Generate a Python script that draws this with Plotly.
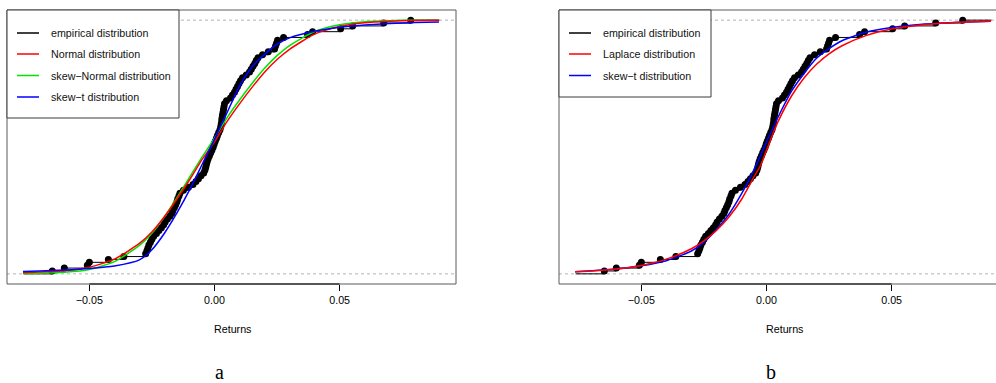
import plotly.graph_objects as go

# ---------------- data ----------------
RETURNS = [
    -0.0648, -0.0600, -0.0508, -0.0500, -0.0424, -0.0362, -0.0275, -0.0270,
    -0.0266, -0.0262, -0.0256, -0.0250, -0.0243, -0.0232, -0.0222, -0.0212,
    -0.0203, -0.0197, -0.0188, -0.0178, -0.0170, -0.0166, -0.0160, -0.0155,
    -0.0150, -0.0147, -0.0142, -0.0138, -0.0124, -0.0104, -0.0086, -0.0074,
    -0.0064, -0.0054, -0.0043, -0.0038, -0.0035, -0.0032, -0.0029, -0.0025,
    -0.0020, -0.0015, -0.0010, -0.0005, -0.0001, 0.0003, 0.0008, 0.0012,
    0.0017, 0.0022, 0.0025, 0.0027, 0.0029, 0.0030, 0.0032, 0.0034,
    0.0036, 0.0038, 0.0040, 0.0048, 0.0064, 0.0072, 0.0080, 0.0086,
    0.0092, 0.0098, 0.0104, 0.0112, 0.0127, 0.0140, 0.0147, 0.0154,
    0.0161, 0.0167, 0.0174, 0.0192, 0.0215, 0.0240, 0.0244, 0.0248,
    0.0252, 0.0276, 0.0372, 0.0392, 0.0504, 0.0552, 0.0676, 0.0784,
]

CURVE_X = [-0.0765, -0.07, -0.06, -0.05, -0.04, -0.03, -0.025, -0.02, -0.015,
           -0.01, -0.005, -0.0025, 0.0, 0.0025, 0.005, 0.01, 0.015, 0.02,
           0.025, 0.03, 0.04, 0.05, 0.06, 0.07, 0.08, 0.0897]

NORMAL_CDF = [0.004, 0.007, 0.012, 0.026, 0.058, 0.12, 0.165, 0.225, 0.295,
              0.37, 0.45, 0.485, 0.52, 0.56, 0.60, 0.67, 0.735, 0.795,
              0.845, 0.885, 0.945, 0.975, 0.99, 0.996, 0.999, 1.0]

SKEWNORMAL_CDF = [0.001, 0.002, 0.006, 0.017, 0.048, 0.112, 0.16, 0.225, 0.30,
                  0.38, 0.46, 0.497, 0.535, 0.575, 0.615, 0.685, 0.75, 0.81,
                  0.86, 0.90, 0.955, 0.982, 0.994, 0.998, 1.0, 1.0]

SKEWT_CDF_A = [0.009, 0.011, 0.015, 0.021, 0.031, 0.055, 0.095, 0.16, 0.24,
               0.33, 0.43, 0.48, 0.53, 0.583, 0.635, 0.74, 0.815, 0.865,
               0.905, 0.93, 0.956, 0.972, 0.981, 0.987, 0.991, 0.993]

LAPLACE_CDF = [0.008, 0.011, 0.019, 0.033, 0.058, 0.099, 0.13, 0.171, 0.224,
               0.293, 0.382, 0.425, 0.487, 0.551, 0.608, 0.701, 0.772, 0.826,
               0.867, 0.898, 0.94, 0.965, 0.979, 0.988, 0.993, 0.996]

SKEWT_CDF_B = [0.008, 0.012, 0.019, 0.032, 0.052, 0.09, 0.125, 0.175, 0.235,
               0.315, 0.41, 0.463, 0.52, 0.573, 0.625, 0.72, 0.79, 0.85,
               0.888, 0.918, 0.953, 0.971, 0.982, 0.988, 0.993, 0.996]

TICK_VALS = [-0.05, 0.0, 0.05]
TICK_TEXT = ["\u22120.05", "0.00", "0.05"]

LEGEND_A = ["empirical distribution", "Normal distribution",
            "skew\u2212Normal distribution", "skew\u2212t distribution"]
LEGEND_B = ["empirical distribution", "Laplace distribution",
            "skew\u2212t distribution"]

# ---------------- styling / geometry ----------------
W, H = 996, 383
SANS = "Liberation Sans, Arial, Helvetica, sans-serif"
SERIF = "Liberation Serif, Times New Roman, serif"
FS = 10.7
RED, GREEN, BLUE, BLACK = "#FF0000", "#00E400", "#0000FF", "#000000"

BOX_A = (7, 456)      # px left/right of panel a box
BOX_B_LEFT = 559
BOX_TOP, BOX_BOT = 10, 284


def px(x):
    return x / W


def py(y):
    return 1 - y / H


# ECDF x-limits like R's plot.stepfun, then 4% axis padding
n = len(RETURNS)
rmin, rmax = min(RETURNS), max(RETURNS)
rng = rmax - rmin
lo, hi = rmin - 0.08 * rng, rmax + 0.08 * rng
pad = 0.04 * (hi - lo)
xr_a = [lo - pad, hi + pad]
wa = BOX_A[1] - BOX_A[0]
wb = W - BOX_B_LEFT
xr_b = [xr_a[0], xr_a[0] + (xr_a[1] - xr_a[0]) * wb / wa]

# horizontal ECDF segments (no verticals)
step_x, step_y = [lo, RETURNS[0], None], [0, 0, None]
for i in range(n):
    x_end = RETURNS[i + 1] if i < n - 1 else hi
    step_x += [RETURNS[i], x_end, None]
    step_y += [(i + 1) / n, (i + 1) / n, None]
ecdf_y = [(i + 1) / n for i in range(n)]

fig = go.Figure()


def add_ecdf(xa, ya):
    fig.add_trace(go.Scatter(x=step_x, y=step_y, mode="lines",
                             line=dict(color=BLACK, width=1),
                             xaxis=xa, yaxis=ya, showlegend=False, hoverinfo="skip"))
    fig.add_trace(go.Scatter(x=RETURNS, y=ecdf_y, mode="markers",
                             marker=dict(color=BLACK, size=7),
                             xaxis=xa, yaxis=ya, showlegend=False))


def add_curve(vals, color, xa, ya):
    fig.add_trace(go.Scatter(x=CURVE_X, y=vals, mode="lines",
                             line=dict(color=color, width=1.5, shape="spline", smoothing=0.6),
                             xaxis=xa, yaxis=ya, showlegend=False))


# panel a
add_ecdf("x", "y")
add_curve(SKEWNORMAL_CDF, GREEN, "x", "y")
add_curve(NORMAL_CDF, RED, "x", "y")
add_curve(SKEWT_CDF_A, BLUE, "x", "y")
# panel b
add_ecdf("x2", "y2")
add_curve(SKEWT_CDF_B, BLUE, "x2", "y2")
add_curve(LAPLACE_CDF, RED, "x2", "y2")

ydom = [py(BOX_BOT), py(BOX_TOP)]
xaxis_common = dict(showgrid=False, zeroline=False, showline=False,
                    ticks="outside", ticklen=6, tickwidth=1, tickcolor=BLACK,
                    tickvals=TICK_VALS, ticktext=TICK_TEXT,
                    tickfont=dict(family=SANS, size=FS, color=BLACK),
                    fixedrange=True)
yaxis_common = dict(range=[-0.04, 1.04], domain=ydom, visible=False, fixedrange=True)

fig.update_layout(
    width=W, height=H, margin=dict(l=0, r=0, t=0, b=0),
    paper_bgcolor="white", plot_bgcolor="white", showlegend=False,
    xaxis=dict(domain=[px(BOX_A[0]), px(BOX_A[1])], range=xr_a, anchor="y", **xaxis_common),
    yaxis=dict(anchor="x", **yaxis_common),
    xaxis2=dict(domain=[px(BOX_B_LEFT), 1.0], range=xr_b, anchor="y2", **xaxis_common),
    yaxis2=dict(anchor="x2", **yaxis_common),
)

shapes = []
# frames (panel b frame extends beyond the page on the right, as in the reference)
for xr_ref, yr_ref, x1 in (("x domain", "y domain", 1.0), ("x2 domain", "y2 domain", wa / wb)):
    shapes.append(dict(type="rect", xref=xr_ref, yref=yr_ref, x0=0, x1=x1, y0=0, y1=1,
                       line=dict(color="#5a5a5a", width=1), layer="above"))
# axis lines between first and last tick, dashed 0/1 reference lines
for xa, ya in (("x", "y"), ("x2", "y2")):
    shapes.append(dict(type="line", xref=xa, yref=ya + " domain",
                       x0=TICK_VALS[0], x1=TICK_VALS[-1], y0=0, y1=0,
                       line=dict(color=BLACK, width=1.2), layer="above"))
    for lvl in (0, 1):
        shapes.append(dict(type="line", xref=xa + " domain", yref=ya, x0=0, x1=1,
                           y0=lvl, y1=lvl, line=dict(color="#B3B3B3", width=1, dash="3px,3px"),
                           layer="below"))

annotations = []


def legend(x0, x1, y1, rows, labels, colors):
    shapes.append(dict(type="rect", xref="paper", yref="paper",
                       x0=px(x0), x1=px(x1), y0=py(y1), y1=py(BOX_TOP),
                       fillcolor="white", line=dict(color="#3a3a3a", width=1), layer="above"))
    for ry, lab, col in zip(rows, labels, colors):
        shapes.append(dict(type="line", xref="paper", yref="paper",
                           x0=px(x0 + 10), x1=px(x0 + 32), y0=py(ry), y1=py(ry),
                           line=dict(color=col, width=1.5), layer="above"))
        annotations.append(dict(x=px(x0 + 42), y=py(ry), xref="paper", yref="paper",
                                text=lab, showarrow=False, xanchor="left", yanchor="middle",
                                font=dict(family=SANS, size=FS, color="#111")))


legend(BOX_A[0], 179, 118, [33, 54, 75.5, 97], LEGEND_A, [BLACK, RED, GREEN, BLUE])
legend(BOX_B_LEFT, 711, 97, [33, 54, 75.5], LEGEND_B, [BLACK, RED, BLUE])

# axis titles and sub-figure captions
for cx, cap, capx in ((232, "a", 219), (784, "b", 771)):
    annotations.append(dict(x=px(cx), y=py(329), xref="paper", yref="paper", text="Returns",
                            showarrow=False, xanchor="center", yanchor="middle",
                            font=dict(family=SANS, size=FS, color=BLACK)))
    annotations.append(dict(x=px(capx), y=py(371.5), xref="paper", yref="paper", text=cap,
                            showarrow=False, xanchor="center", yanchor="middle",
                            font=dict(family=SERIF, size=20, color=BLACK)))

fig.update_layout(shapes=shapes, annotations=annotations)
fig.write_html("out.html", config={"displayModeBar": False, "staticPlot": True},
               post_script="document.body.style.margin='0';document.body.style.overflow='hidden';")
